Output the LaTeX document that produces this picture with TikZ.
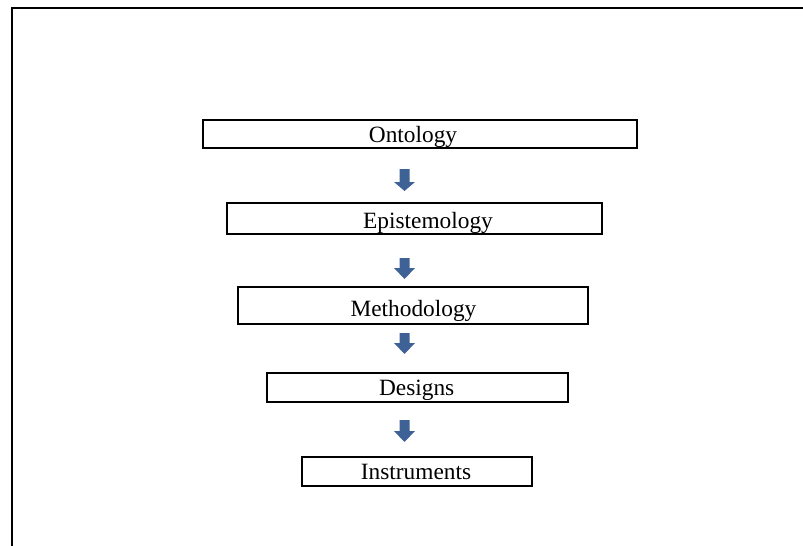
\documentclass[tikz,border=0pt]{standalone}
\usepackage{fontspec}
\setmainfont{Liberation Serif}
\definecolor{arrowblue}{RGB}{62,98,150}
\tikzset{
  stagebox/.style={draw=black, line width=1.5pt, fill=white, inner sep=0pt},
  stagetext/.style={anchor=base, inner sep=0pt, font=\fontsize{17.5pt}{20pt}\selectfont},
  blockarrow/.style={fill=arrowblue, draw=none},
  frameline/.style={draw=black, line width=1.6pt}
}
\begin{document}
\begin{tikzpicture}[x=0.75pt,y=-0.75pt]
\useasboundingbox (0,0) rectangle (803,546);
\begin{scope}
\clip (0,0) rectangle (803,546);
\draw[frameline] (12,560) -- (12,8) -- (820,8);
\end{scope}
% boxes
\node[stagebox, minimum width=433.5*0.75pt, minimum height=28*0.75pt] (ont) at (420,134) {};
\node[stagebox, minimum width=374.5*0.75pt, minimum height=30.5*0.75pt] (epi) at (414.5,218.5) {};
\node[stagebox, minimum width=350*0.75pt, minimum height=37*0.75pt] (met) at (413.3,305.5) {};
\node[stagebox, minimum width=301.5*0.75pt, minimum height=29*0.75pt] (des) at (417.5,387.3) {};
\node[stagebox, minimum width=230*0.75pt, minimum height=29.5*0.75pt] (ins) at (416.7,471.5) {};
% texts
\node[stagetext] (tont) at (413,142.3) {Ontology};
\node[stagetext] (tepi) at (428,228.3) {Epistemology};
\node[stagetext] (tmet) at (413.5,316.7) {Methodology};
\node[stagetext] (tdes) at (416.7,395.7) {Designs};
\node[stagetext] (tins) at (416,479) {Instruments};
% arrows
\coordinate (a1) at (404.5,169);
\coordinate (a2) at (404.5,258);
\coordinate (a3) at (404.5,333);
\coordinate (a4) at (404.5,420);
\fill[blockarrow] (a1) ++(-5,0) -- ++(10,0) -- ++(0,13) -- ++(5.5,0) -- ++(-10.5,9) -- ++(-10.5,-9) -- ++(5.5,0) -- cycle;
\fill[blockarrow] (a2) ++(-5,0) -- ++(10,0) -- ++(0,10) -- ++(5.5,0) -- ++(-10.5,11) -- ++(-10.5,-11) -- ++(5.5,0) -- cycle;
\fill[blockarrow] (a3) ++(-5,0) -- ++(10,0) -- ++(0,10) -- ++(5.5,0) -- ++(-10.5,11) -- ++(-10.5,-11) -- ++(5.5,0) -- cycle;
\fill[blockarrow] (a4) ++(-5,0) -- ++(10,0) -- ++(0,11) -- ++(5.5,0) -- ++(-10.5,11) -- ++(-10.5,-11) -- ++(5.5,0) -- cycle;
\end{tikzpicture}
\end{document}
